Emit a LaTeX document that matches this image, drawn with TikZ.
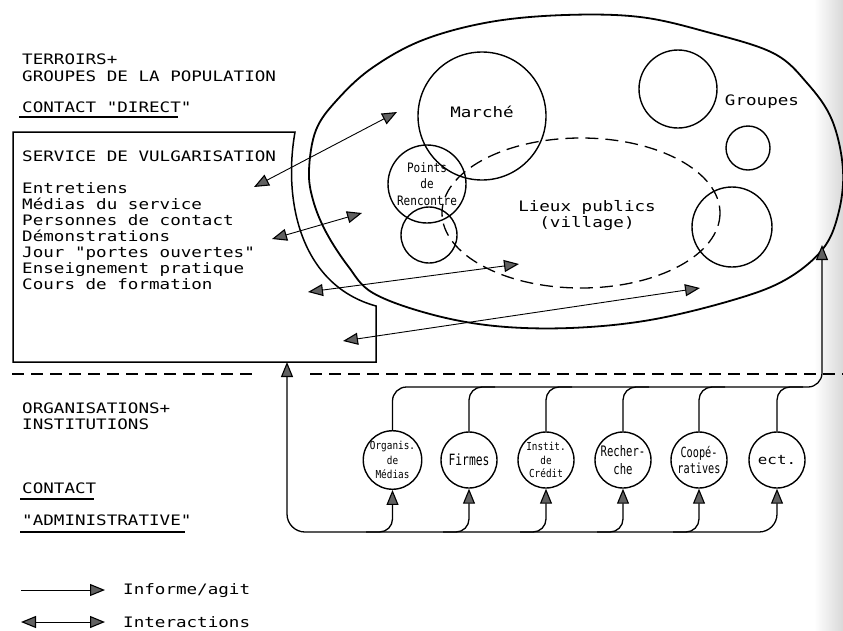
\documentclass[tikz,border=0pt]{standalone}
\usepackage{fontspec}
\usetikzlibrary{arrows.meta}
\newfontfamily\plotfont[FakeStretch=1.22]{DejaVu Sans Mono}
\newfontfamily\plotmid[FakeStretch=0.85]{DejaVu Sans Mono}
\newfontfamily\plotnarrow[FakeStretch=0.73]{DejaVu Sans Mono}
\newcommand\plotsize{\fontsize{14.4}{16}\selectfont}
\begin{document}
\begin{tikzpicture}[x=1pt,y=-1pt,
  >={Triangle[length=15pt,width=12pt,fill=black!62,line width=1.1pt]},
  txt/.style={anchor=base west,inner sep=0pt,font=\plotfont\plotsize},
  ctxt/.style={inner sep=0pt,font=\plotfont\plotsize,align=center},
  outline/.style={line width=1.5pt},
  ring/.style={circle,draw,line width=1.4pt,inner sep=0pt},
  org/.style={circle,draw,line width=1.4pt,inner sep=0pt,minimum size=56pt,align=center},
  bus/.style={line width=1.3pt},
  link/.style={line width=0.9pt},
  ul/.style={line width=1.4pt}]
\useasboundingbox (0,0) rectangle (843,630);

% grey edge of the sheet
\shade[left color=white,right color=black!15] (814,0) rectangle (843,630);

% ---- headings, left column ----
\node[txt] (t1) at (22,64) {TERROIRS+};
\node[txt] (t2) at (22,81) {GROUPES DE LA POPULATION};
\node[txt] (t3) at (22,112) {CONTACT "DIRECT"};
\draw[ul] (19,117) -- (178,117);

% ---- extension service box ----
\draw[outline] (13,132) -- (295,132) .. controls (283,200) and (300,285) .. (376,306)
  -- (376,362) -- (13,362) -- cycle;
\coordinate (boxin) at (287,362);
\node[txt] (s0) at (22,161) {SERVICE DE VULGARISATION};
\foreach \t [count=\i] in {Entretiens,M\'edias du service,Personnes de contact,
    D\'emonstrations,Jour "portes ouvertes",Enseignement pratique,Cours de formation}
  \node[txt] (s\i) at (22,177+16*\i) {\t};

% ---- population area ----
\draw[line width=1.8pt] plot[smooth cycle,tension=0.6] coordinates {
  (309,170) (316,130) (337,100) (372,68) (423,40) (490,22) (565,15) (640,17)
  (707,32) (773,53) (807,83) (832,120) (843,170) (838,215) (822,250) (785,280)
  (733,300) (650,320) (570,328) (495,326) (430,314) (373,293) (348,266) (326,232)
  (313,200)};
\draw[line width=1.3pt,dash pattern=on 13pt off 7pt] (581,213) ellipse [x radius=139,y radius=75];
\node[ring,minimum size=128pt] (marche) at (482,116) {};
\node[ctxt] (marchet) at (482,112) {March\'e};
\node[ring,minimum size=78pt,font=\plotmid\fontsize{13}{16.5}\selectfont,align=center]
  (rencontre) at (427,184) {Points\\de\\Rencontre};
\node[ring,minimum size=56pt] (small1) at (429,235) {};
\node[ring,minimum size=78pt] (grp1) at (678,89) {};
\node[ring,minimum size=44pt] (grp2) at (748,148) {};
\node[ring,minimum size=80pt] (grp3) at (732,227) {};
\node[ctxt] (groupes) at (762,102) {Groupes};
\node[ctxt] (lieux) at (587,216) {Lieux publics\\(village)};

% ---- interactions between service and population ----
\coordinate (a1s) at (254,187); \coordinate (a1e) at (397,112);
\coordinate (a2s) at (272,239); \coordinate (a2e) at (362,213);
\coordinate (a3s) at (308,292); \coordinate (a3e) at (519,264);
\coordinate (a4s) at (343,341); \coordinate (a4e) at (700,288);
\draw[link,<->] (a1s) -- (a1e);
\draw[link,<->] (a2s) -- (a2e);
\draw[link,<->] (a3s) -- (a3e);
\draw[link,<->] (a4s) -- (a4e);

% ---- separator ----
\draw[line width=1.3pt,dash pattern=on 12pt off 7pt] (12,374) -- (258,374);
\draw[line width=1.3pt,dash pattern=on 12pt off 7pt] (310,374) -- (843,374);

% ---- organisations ----
\node[txt] (o1) at (22,413) {ORGANISATIONS+};
\node[txt] (o2) at (22,429) {INSTITUTIONS};
\node[txt] (o3) at (22,493) {CONTACT};
\draw[ul] (20,499) -- (94,499);
\node[txt] (o4) at (22,525) {"ADMINISTRATIVE"};
\draw[ul] (20,532) -- (185,532);

\node[org,font=\plotmid\fontsize{11}{14.5}\selectfont] (c1) at (392.5,460) {Organis.\\de\\M\'edias};
\node[org,font=\plotnarrow\fontsize{15.5}{16}\selectfont] (c2) at (469,460) {Firmes};
\node[org,font=\plotmid\fontsize{11}{13.5}\selectfont] (c3) at (546,460) {Instit.\\de\\Cr\'edit};
\node[org,font=\plotnarrow\fontsize{14.5}{18}\selectfont] (c4) at (623,460) {Recher-\\che};
\node[org,font=\plotnarrow\fontsize{14}{16.5}\selectfont] (c5) at (699,460) {Coop\'e-\\ratives};
\node[org,font=\plotfont\fontsize{13}{16}\selectfont] (c6) at (777,460) {ect.};

% upper bus: organisations to the population
\coordinate (popin) at (822,245);
\draw[bus,rounded corners=14,->] (c1.north) |- (822,387) -- (popin);
\draw[bus,rounded corners=13] (c2.north) |- (495,387);
\draw[bus,rounded corners=13] (c3.north) |- (572,387);
\draw[bus,rounded corners=13] (c4.north) |- (649,387);
\draw[bus,rounded corners=13] (c5.north) |- (725,387);
\draw[bus,rounded corners=13] (c6.north) |- (803,387);

% lower bus: service to the organisations
\draw[bus,rounded corners=18,<->] (c6.south) |- (287,532) -- (boxin);
\draw[bus,rounded corners=13,->] (366,532) -| (c1.south);
\draw[bus,rounded corners=13,->] (443,532) -| (c2.south);
\draw[bus,rounded corners=13,->] (520,532) -| (c3.south);
\draw[bus,rounded corners=13,->] (597,532) -| (c4.south);
\draw[bus,rounded corners=13,->] (673,532) -| (c5.south);

% ---- legend ----
\coordinate (l1a) at (21,590); \coordinate (l1b) at (105,590);
\coordinate (l2a) at (21,622); \coordinate (l2b) at (105,622);
\draw[link,->] (l1a) -- (l1b);
\draw[link,<->] (l2a) -- (l2b);
\node[txt] (lg1) at (123,594) {Informe/agit};
\node[txt] (lg2) at (123,627) {Interactions};
\end{tikzpicture}
\end{document}
